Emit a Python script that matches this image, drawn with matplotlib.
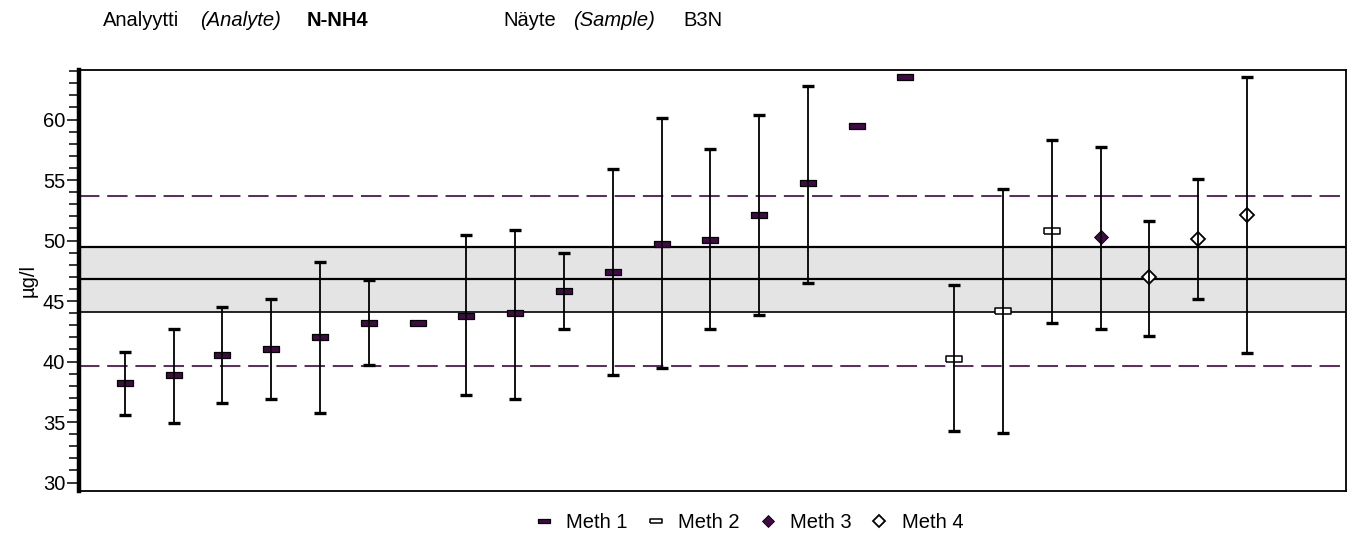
import numpy as np
import matplotlib

matplotlib.use("Agg")
import matplotlib.pyplot as plt
from matplotlib.lines import Line2D
from matplotlib.ticker import MultipleLocator

plt.rcParams["font.family"] = ["Liberation Sans", "DejaVu Sans"]

# laboratory results: mean and uncertainty interval, sorted within method
labs = np.arange(1, 25)
means = [38.2, 38.9, 40.55, 41.0, 42.0, 43.2, 43.2, 43.8, 44.05, 45.8, 47.4, 49.75,
         50.05, 52.1, 54.75, 59.45, 63.55, 40.2, 44.2, 50.8, 50.3, 46.95, 50.1, 52.1]
upper = [40.8, 42.65, 44.5, 45.15, 48.25, 46.7, np.nan, 50.45, 50.9, 48.95, 55.9, 60.15,
         57.55, 60.35, 62.8, np.nan, np.nan, 46.3, 54.25, 58.35, 57.75, 51.6, 55.05, 63.55]
lower = [35.6, 34.9, 36.6, 36.9, 35.75, 39.7, np.nan, 37.2, 36.9, 42.7, 38.9, 39.5,
         42.65, 43.85, 46.5, np.nan, np.nan, 34.3, 34.1, 43.2, 42.65, 42.15, 45.15, 40.7]
methods = [1] * 17 + [2, 2, 2, 3, 4, 4, 4]
method_names = ["Meth 1", "Meth 2", "Meth 3", "Meth 4"]

assigned = 46.8
band = (44.1, 49.5)
limits = (39.65, 53.7)

PURPLE = "#400a44"
CAP = "#4e1454"
DASH = "#5a2a5c"
FS = 14.5

rect = [(-1, -0.36), (1, -0.36), (1, 0.36), (-1, 0.36), (-1, -0.36)]
styles = {
    1: dict(marker=rect, ms=11, mfc=PURPLE, mec="black", mew=0.9),
    2: dict(marker=rect, ms=11, mfc="white", mec="black", mew=1.1),
    3: dict(marker="D", ms=7.5, mfc=PURPLE, mec="black", mew=0.6),
    4: dict(marker="D", ms=7.5, mfc="white", mec="black", mew=1.3),
}

fig = plt.figure(figsize=(13.56, 5.33), dpi=100)
ax = fig.add_axes([0.0583, 0.0788, 0.9343, 0.7899])

ax.axhspan(band[0], band[1], color="#e4e4e4", zorder=0, lw=0)
for y, lw in ((band[1], 1.6), (assigned, 1.6), (band[0], 1.2)):
    ax.axhline(y, color="black", lw=lw, zorder=1)
for y in limits:
    ax.axhline(y, color=DASH, lw=1.4, dashes=(10.5, 4.0), zorder=1)

for m in (1, 2, 3, 4):
    sel = [i for i, v in enumerate(methods) if v == m]
    ax.plot(labs[sel], np.array(means)[sel], ls="none", zorder=3, **styles[m])

mean_arr = np.array(means)
up = np.array(upper) - mean_arr
lo = mean_arr - np.array(lower)
has_bar = ~np.isnan(up)
_, caps, _ = ax.errorbar(labs[has_bar], mean_arr[has_bar],
                         yerr=[lo[has_bar], up[has_bar]], fmt="none",
                         ecolor="black", elinewidth=1.3, capsize=4.5,
                         capthick=2.4, zorder=4)
for c in caps:
    c.set_color(CAP)

ax.set_xlim(0.06, 26.03)
ax.set_ylim(29.3, 64.1)
ax.set_xticks([])
ax.set_yticks(np.arange(30, 61, 5))
ax.yaxis.set_minor_locator(MultipleLocator(1))
ax.tick_params(axis="y", which="major", length=8.5, width=1.1, labelsize=FS,
               pad=1.5, colors="black")
ax.tick_params(axis="y", which="minor", length=7.5, width=1.1)
ax.spines["left"].set_linewidth(3.2)
for s in ("top", "right", "bottom"):
    ax.spines[s].set_linewidth(1.3)
ax.set_ylabel("µg/l", fontsize=FS, labelpad=4)

handles = [Line2D([], [], ls="none", **dict(styles[m], ms=styles[m]["ms"] * 0.75))
           for m in (1, 2, 3, 4)]
fig.legend(handles, method_names, loc="center", bbox_to_anchor=(0.552, 0.02),
           ncol=4, frameon=False, fontsize=FS, handletextpad=0.6,
           columnspacing=0.9, handlelength=1.0)

# header line above the plot
hy = 1 - 20 / 533
fig.text(103 / 1356, hy, "Analyytti", fontsize=FS, va="center")
fig.text(200 / 1356, hy, "(Analyte)", fontsize=FS, style="italic", va="center")
fig.text(307 / 1356, hy, "N-NH4", fontsize=FS, weight="bold", va="center")
fig.text(503 / 1356, hy, "Näyte", fontsize=FS, va="center")
fig.text(573 / 1356, hy, "(Sample)", fontsize=FS, style="italic", va="center")
fig.text(683 / 1356, hy, "B3N", fontsize=FS, va="center")

fig.savefig("out.png", dpi=100)
